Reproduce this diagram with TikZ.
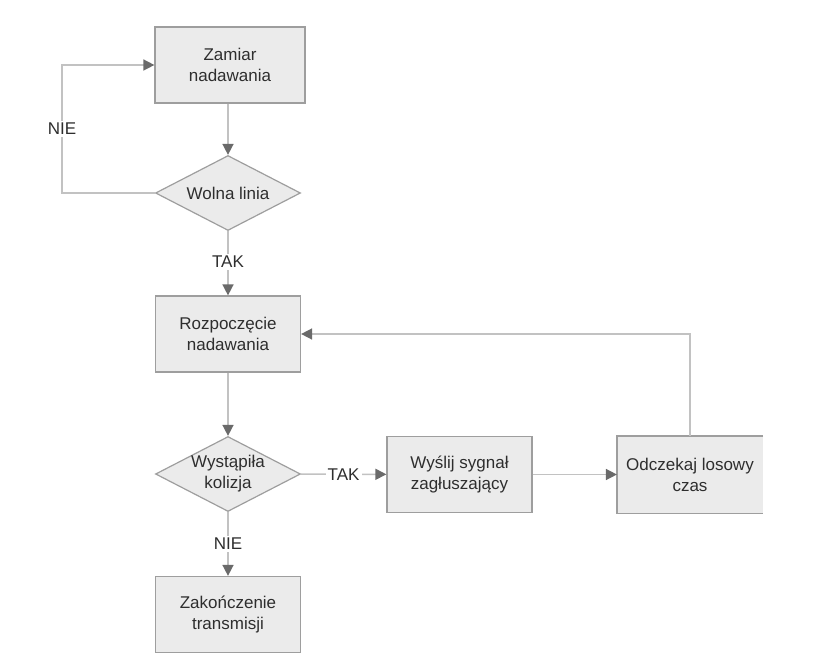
\documentclass[tikz,border=0pt]{standalone}
\usepackage{fontspec}
\setmainfont{Liberation Sans}
\usetikzlibrary{shapes.geometric,arrows.meta}
\definecolor{boxfill}{HTML}{EBEBEB}
\definecolor{boxline}{HTML}{9E9E9E}
\definecolor{conline}{HTML}{C2C2C2}
\definecolor{tipcol}{HTML}{6A6A6A}
\definecolor{txt}{HTML}{2E2E2E}
\tikzset{
  box/.style={rectangle, fill=boxfill, draw=boxline, line width=1.2pt,
    minimum width=145pt, minimum height=76pt, inner sep=0pt, align=center,
    text=txt, font=\fontsize{17}{21}\selectfont},
  boxopen/.style={box, draw=none},
  dia/.style={diamond, fill=boxfill, draw=boxline, line width=1.2pt,
    aspect=1.93, minimum width=145pt, minimum height=75pt, inner sep=0pt,
    align=center, text=txt, font=\fontsize{17}{21}\selectfont},
  conn/.style={draw=conline, line width=1.5pt},
  arr/.style={conn, -{Triangle[length=11pt,width=11pt,color=tipcol]}},
  lbl/.style={fill=white, inner sep=2pt, text=txt, font=\fontsize{17}{20}\selectfont}
}
\begin{document}
\begin{tikzpicture}[x=1pt,y=-1pt]
\useasboundingbox (0,0) rectangle (835,663);
\node[box] (zam) at (230,65) [minimum width=150pt] {Zamiar\\nadawania};
\node[dia] (wol) at (228,193) {Wolna linia};
\node[box] (roz) at (228,334) {Rozpoczęcie\\nadawania};
\node[dia] (wys) at (228,474) {Wystąpiła\\kolizja};
\node[box] (wsl) at (459.5,474.5) {Wyślij sygnał\\zagłuszający};
\node[boxopen] (odc) at (690,474.5) {Odczekaj losowy\\czas};
\draw[draw=boxline, line width=1.2pt] (odc.north east) -- (odc.north west) -- (odc.south west) -- (odc.south east);
\node[box] (zak) at (228,614.5) {Zakończenie\\transmisji};
\coordinate (lp) at (62,193);
\draw[arr] (zam.south -| wol) -- (wol);
\draw[arr] (wol.west) -- (lp) |- node[lbl, pos=0.25] {NIE} (zam.west);
\draw[arr] (wol) -- node[lbl, pos=0.48] {TAK} (roz);
\draw[arr] (roz) -- (wys);
\draw[arr] (wys) -- node[lbl, pos=0.5] {TAK} (wsl);
\draw[arr] (wsl) -- (odc);
\draw[arr] (odc.north) |- (roz.east);
\draw[arr] (wys) -- node[lbl, pos=0.5] {NIE} (zak);
\end{tikzpicture}
\end{document}
